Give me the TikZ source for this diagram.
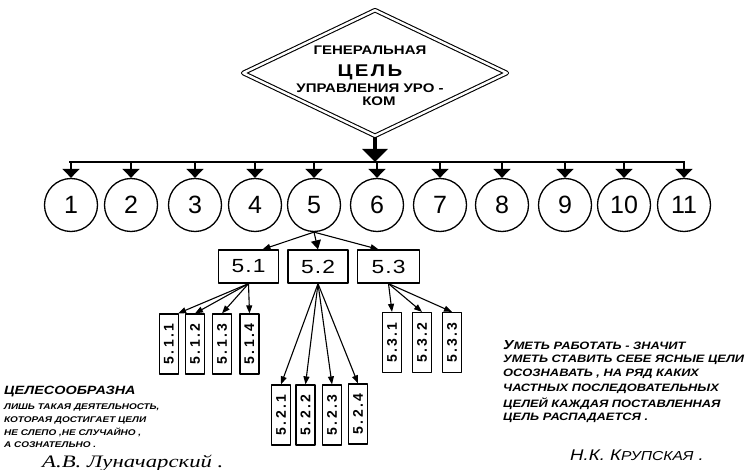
\documentclass[tikz,border=0pt]{standalone}
\usepackage{fontspec}
\setmainfont{Liberation Sans}
\newfontfamily\hand[FakeStretch=1.2]{Liberation Sans}
\newfontfamily\sig[FakeStretch=1.3]{Liberation Serif}
\usetikzlibrary{shapes.geometric,arrows.meta}
\begin{document}
\begin{tikzpicture}[x=1pt,y=-1pt,line join=round,
  circ/.style={draw,circle,minimum size=53pt,inner sep=0,line width=1.3pt,font=\fontsize{25}{25}\selectfont},
  boxA/.style={draw,rectangle,minimum width=60pt,minimum height=33pt,inner sep=0,line width=1.3pt,font=\hand\fontsize{19}{19}\selectfont\addfontfeature{LetterSpace=6}},
  boxB/.style={draw,rectangle,minimum width=19pt,minimum height=60pt,inner sep=0,line width=1.2pt,font=\bfseries\fontsize{14}{14}\selectfont\addfontfeature{LetterSpace=16}},
  bigarr/.style={line width=3.5pt,-{Triangle[width=25pt,length=13pt]}},
  darr/.style={line width=1.8pt,-{Triangle[width=17pt,length=9pt]}},
  sarr/.style={line width=1.1pt,-{Triangle[width=6pt,length=8pt]}},
  dtxt/.style={inner sep=0},
  qtxt/.style={anchor=west,inner sep=0,font=\hand\bfseries\itshape\fontsize{8.3}{8.3}\selectfont},
  rtxt/.style={anchor=west,inner sep=0,font=\hand\bfseries\itshape\fontsize{10.7}{10.7}\selectfont}
]
\path[use as bounding box] (0,0) rectangle (753,470);

% diamond
\node[draw,diamond,double,double distance=2.4pt,line width=1.1pt,minimum width=264pt,minimum height=126pt,inner sep=0] (dia) at (375,73) {};
\node[dtxt,font=\hand\bfseries\fontsize{12.5}{12.5}\selectfont] (d1) at (370,50) {ГЕНЕРАЛЬНАЯ};
\node[dtxt,font=\hand\bfseries\fontsize{17}{17}\selectfont\addfontfeature{LetterSpace=14}] (d2) at (370,72) {ЦЕЛЬ};
\node[dtxt,font=\hand\bfseries\fontsize{12.5}{12.5}\selectfont] (d3) at (370,88) {УПРАВЛЕНИЯ УРО -};
\node[dtxt,font=\hand\bfseries\fontsize{12.5}{12.5}\selectfont] (d4) at (379,101) {КОМ};

% circles
\node[circ] (c1) at (71,205) {1};
\node[circ] (c2) at (131,205) {2};
\node[circ] (c3) at (195,205) {3};
\node[circ] (c4) at (255,205) {4};
\node[circ] (c5) at (314,205) {5};
\node[circ] (c6) at (377,205) {6};
\node[circ] (c7) at (440,205) {7};
\node[circ] (c8) at (502,205) {8};
\node[circ] (c9) at (565,205) {9};
\node[circ] (c10) at (624,205) {10};
\node[circ] (c11) at (684,205) {11};

% bus
\coordinate (bl) at (69,162);
\coordinate (br) at (685,162);
\draw[line width=2.2pt] (bl) -- (br);
\draw[bigarr] (dia.south) -- (dia.south |- bl);
\foreach \i in {1,...,11}{\draw[darr] (c\i |- bl) -- (c\i.north);}

% level 2
\node[boxA] (b51) at (248.5,266.5) {5.1};
\node[boxA] (b52) at (318,266.5) {5.2};
\node[boxA,minimum width=62pt] (b53) at (388.5,266.5) {5.3};
\draw[sarr] (c5.south) -- ([xshift=14pt]b51.north);
\draw[line width=1.1pt,-{Triangle[width=10pt,length=9pt]}] (c5.south) -- (b52.north);
\draw[sarr] (c5.south) -- ([xshift=-10pt]b53.north);

% level 3
\node[boxB] (b511) at (169,344) {\rotatebox{90}{5.1.1}};
\node[boxB] (b512) at (195,344) {\rotatebox{90}{5.1.2}};
\node[boxB] (b513) at (222,344) {\rotatebox{90}{5.1.3}};
\node[boxB] (b514) at (249.5,344) {\rotatebox{90}{5.1.4}};
\node[boxB] (b521) at (281,415) {\rotatebox{90}{5.2.1}};
\node[boxB] (b522) at (305.5,415) {\rotatebox{90}{5.2.2}};
\node[boxB] (b523) at (332,415) {\rotatebox{90}{5.2.3}};
\node[boxB] (b524) at (358,414) {\rotatebox{90}{5.2.4}};
\node[boxB] (b531) at (392,342.5) {\rotatebox{90}{5.3.1}};
\node[boxB] (b532) at (422,342.5) {\rotatebox{90}{5.3.2}};
\node[boxB] (b533) at (452,342.5) {\rotatebox{90}{5.3.3}};

\draw[sarr] (b51.south) -- ([xshift=-1pt]b511.north east);
\draw[sarr] (b51.south) -- (b512.north);
\draw[sarr] (b51.south) -- (b513.north);
\draw[sarr] (b51.south) -- (b514.north);
\draw[sarr] (b52.south) -- (b521.north);
\draw[sarr] (b52.south) -- (b522.north);
\draw[sarr] (b52.south) -- (b523.north);
\draw[sarr] (b52.south) -- (b524.north);
\draw[sarr] (b53.south) -- (b531.north);
\draw[sarr] (b53.south) -- (b532.north);
\draw[sarr] (b53.south) -- (b533.north);

% left quote
\node[qtxt,font=\hand\bfseries\itshape\fontsize{12}{12}\selectfont] (q1) at (4,392) {ЦЕЛЕСООБРАЗНА};
\node[qtxt] (q2) at (4,407) {ЛИШЬ ТАКАЯ ДЕЯТЕЛЬНОСТЬ,};
\node[qtxt] (q3) at (4,420) {КОТОРАЯ ДОСТИГАЕТ ЦЕЛИ};
\node[qtxt] (q4) at (4,432) {НЕ СЛЕПО ,НЕ СЛУЧАЙНО ,};
\node[qtxt] (q5) at (4,445) {А СОЗНАТЕЛЬНО .};
\node[anchor=west,inner sep=0,font=\sig\itshape\fontsize{17.5}{17.5}\selectfont] (q6) at (42,463) {А.В. Луначарский .};

% right quote
\node[rtxt] (r1) at (503,345) {{\fontsize{13}{13}\selectfont У}МЕТЬ РАБОТАТЬ - ЗНАЧИТ};
\node[rtxt] (r2) at (503,359.6) {УМЕТЬ СТАВИТЬ СЕБЕ ЯСНЫЕ ЦЕЛИ};
\node[rtxt] (r3) at (503,374.2) {ОСОЗНАВАТЬ , НА РЯД КАКИХ};
\node[rtxt] (r4) at (503,388.8) {ЧАСТНЫХ ПОСЛЕДОВАТЕЛЬНЫХ};
\node[rtxt] (r5) at (503,403.4) {ЦЕЛЕЙ КАЖДАЯ ПОСТАВЛЕННАЯ};
\node[rtxt] (r6) at (503,418) {ЦЕЛЬ РАСПАДАЕТСЯ .};
\node[anchor=west,inner sep=0,font=\hand\itshape\fontsize{15.5}{15.5}\selectfont] (r7) at (570,455) {Н.К. К{\fontsize{13}{13}\selectfont РУПСКАЯ} .};
\end{tikzpicture}
\end{document}
